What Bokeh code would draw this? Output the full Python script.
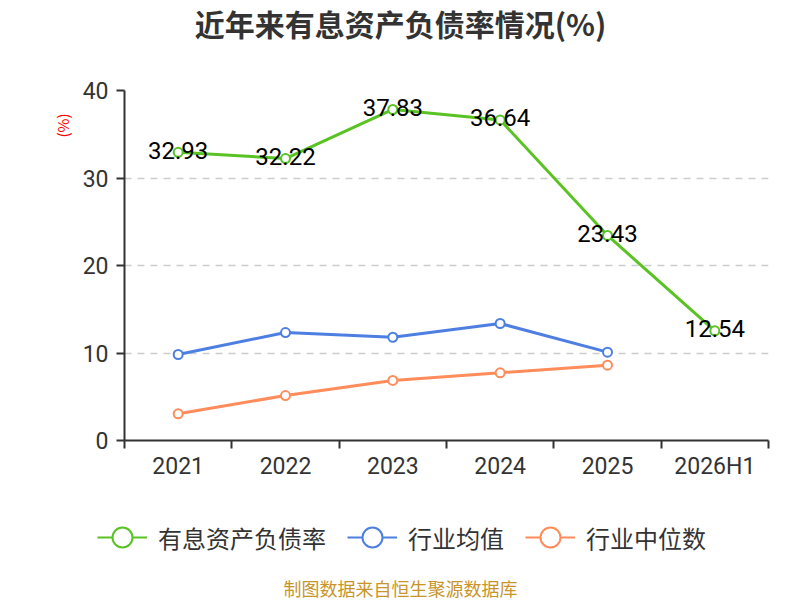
from bokeh.plotting import figure
from bokeh.layouts import column, row
from bokeh.models import (Range1d, FixedTicker, Legend, LegendItem, Title,
                          ColumnDataSource, Label)
from bokeh.core.properties import value
from bokeh.embed import file_html
from bokeh.resources import INLINE

# ---- data ----
periods = ["2021", "2022", "2023", "2024", "2025", "2026H1"]
ratio = [32.93, 32.22, 37.83, 36.64, 23.43, 12.54]
ind_mean = [9.83, 12.34, 11.80, 13.37, 10.10]
ind_median = [3.05, 5.14, 6.86, 7.74, 8.61]
y_ticks = [0, 10, 20, 30, 40]
series_names = ["有息资产负债率", "行业均值", "行业中位数"]
title_text = "近年来有息资产负债率情况(%)"
source_text = "制图数据来自恒生聚源数据库"

GREEN = "#58c322"
BLUE = "#4d7fe2"
ORANGE = "#ff8c5a"
CJK = "Noto Sans CJK SC"
NUM = "Roboto"

pos = [i + 0.5 for i in range(len(periods))]
bounds = [float(i) for i in range(len(periods) + 1)]


def strip(h):
    f = figure(width=800, height=h, output_backend="svg", toolbar_location=None,
               x_range=Range1d(0, 800), y_range=Range1d(0, h),
               min_border_left=0, min_border_right=0, min_border_top=0,
               min_border_bottom=0, title=None)
    f.axis.visible = False
    f.grid.visible = False
    f.outline_line_color = None
    f.background_fill_color = "white"
    f.border_fill_color = "white"
    return f


# ---- title strip ----
t = strip(75)
t.add_layout(Label(x=400, y=75 - 22, text=title_text, text_align="center",
                   text_baseline="middle", text_color="#333333", text_font=CJK,
                   text_font_size="30px", text_font_style="bold"))

# ---- main chart ----
p = figure(width=800, height=415, output_backend="svg", toolbar_location=None,
           x_range=Range1d(0, len(periods)), y_range=Range1d(0, 40),
           min_border_left=124, min_border_right=32, min_border_top=15,
           min_border_bottom=50, title=None)
p.outline_line_color = None
p.background_fill_color = "white"
p.border_fill_color = "white"

xa = p.xaxis[0]
xa.ticker = FixedTicker(ticks=pos, minor_ticks=bounds)
xa.major_label_overrides = {pos[i]: periods[i] for i in range(len(periods))}
xa.major_tick_out = 0
xa.major_tick_in = 0
xa.minor_tick_out = 8
xa.minor_tick_in = 0
xa.minor_tick_line_color = "#333333"
xa.minor_tick_line_width = 2
xa.axis_line_color = "#333333"
xa.axis_line_width = 2
xa.major_label_text_font = NUM
xa.major_label_text_font_size = "23px"
xa.major_label_text_color = "#333333"
xa.major_label_standoff = 4

ya = p.yaxis[0]
ya.ticker = FixedTicker(ticks=y_ticks)
ya.major_tick_out = 8
ya.major_tick_in = 0
ya.minor_tick_line_color = None
ya.major_tick_line_color = "#333333"
ya.major_tick_line_width = 2
ya.axis_line_color = "#333333"
ya.axis_line_width = 2
ya.major_label_text_font = NUM
ya.major_label_text_font_size = "23px"
ya.major_label_text_color = "#333333"
ya.major_label_standoff = 8

p.xgrid.grid_line_color = None
p.ygrid.grid_line_color = "#cccccc"
p.ygrid.grid_line_dash = "7 6"
p.ygrid.grid_line_width = 1.5

ytitle = Title(text="(%)", align="right", text_color="#ff0000",
               text_font=CJK, text_font_size="15px", text_font_style="normal",
               standoff=14, offset=23)
p.add_layout(ytitle, "left")

s1 = ColumnDataSource(dict(x=pos, y=ratio, t=[f"{v:.2f}" for v in ratio]))
s2 = ColumnDataSource(dict(x=pos[:len(ind_mean)], y=ind_mean))
s3 = ColumnDataSource(dict(x=pos[:len(ind_median)], y=ind_median))

for src, col in [(s1, GREEN), (s2, BLUE), (s3, ORANGE)]:
    p.line("x", "y", source=src, line_color=col, line_width=3)
    p.scatter("x", "y", source=src, size=9, line_color=col, line_width=2,
              fill_color="white")

p.text("x", "y", text="t", source=s1, text_align="center",
       text_baseline="middle", y_offset=-2, text_font=value(NUM),
       text_font_size="24px", text_color="#000000")

# ---- legend + source strip ----
q = strip(110)
items = []
for col, name in zip([GREEN, BLUE, ORANGE], series_names):
    proxy = ColumnDataSource(dict(x=[float("nan")], y=[float("nan")]))
    ln = q.line("x", "y", source=proxy, line_color=col, line_width=2)
    sc = q.scatter("x", "y", source=proxy, size=9, line_color=col,
                   line_width=2, fill_color="white")
    items.append(LegendItem(label=name, renderers=[ln, sc]))

legend = Legend(items=items, orientation="horizontal", location=(97, 38),
                glyph_width=50, glyph_height=50, label_standoff=11, spacing=21,
                padding=0, margin=0, border_line_color=None,
                background_fill_alpha=0,
                label_text_font=CJK, label_text_font_size="24px",
                label_text_color="#333333")
q.add_layout(legend, "center")

q.add_layout(Label(x=400, y=13, text=source_text, text_align="center",
                   text_baseline="middle", text_color="#c8952a", text_font=CJK,
                   text_font_size="18px"))

layout = column(row(t), p, row(q), spacing=0)
open("out.html", "w").write(file_html(layout, INLINE))
